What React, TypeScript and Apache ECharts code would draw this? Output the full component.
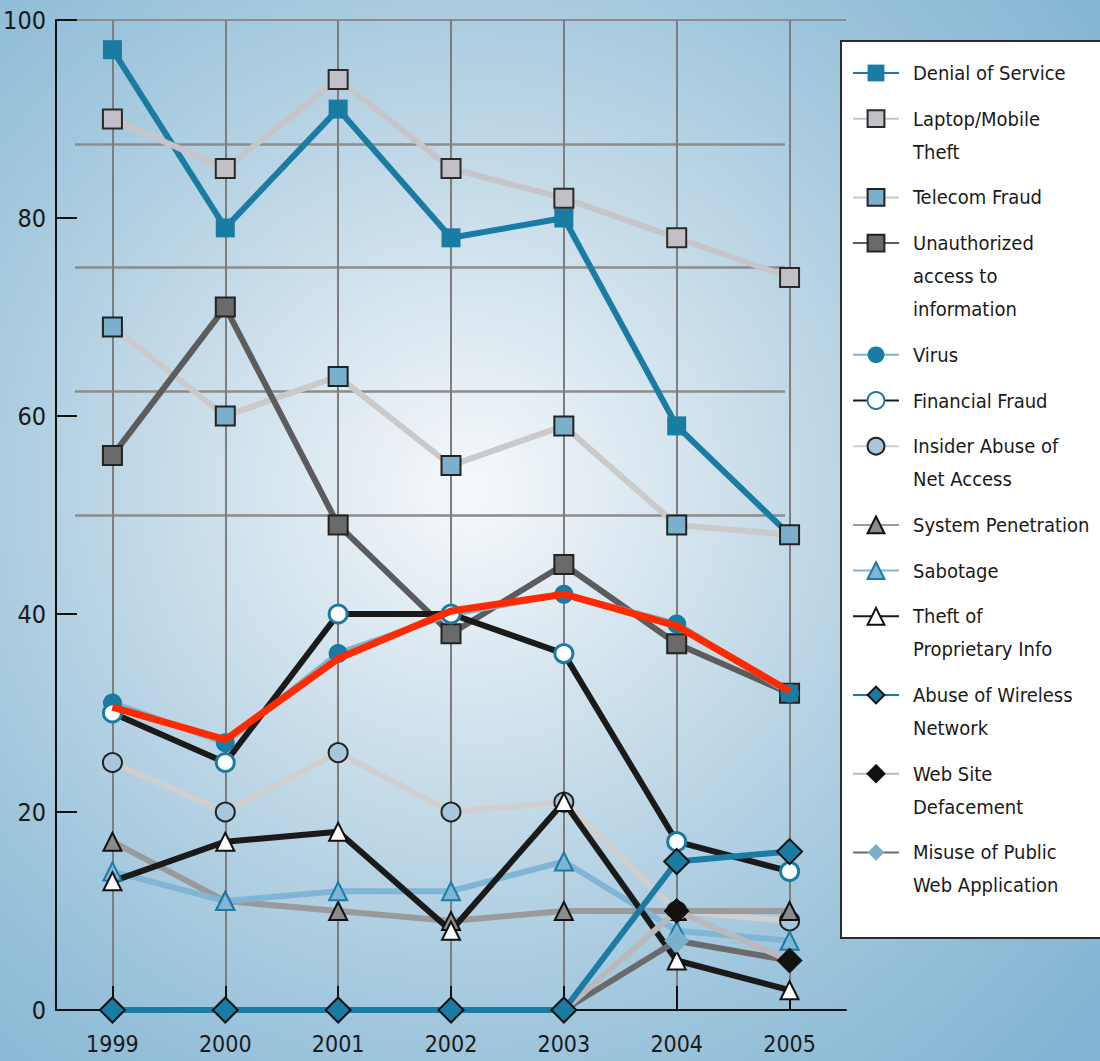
import React, { useEffect, useRef } from "react";
import * as echarts from "echarts";

const years = ["1999", "2000", "2001", "2002", "2003", "2004", "2005"];

const denialOfService = [97, 79, 91, 78, 80, 59, 48];
const laptopTheft = [90, 85, 94, 85, 82, 78, 74];
const telecomFraud = [69, 60, 64, 55, 59, 49, 48];
const unauthorizedAccess = [56, 71, 49, 38, 45, 37, 32];
const virus = [31, 27, 36, 40, 42, 39, 32];
const financialFraud = [30, 25, 40, 40, 36, 17, 14];
const insiderAbuse = [25, 20, 26, 20, 21, 10, 9];
const systemPenetration = [17, 11, 10, 9, 10, 10, 10];
const sabotage = [14, 11, 12, 12, 15, 8, 7];
const theftProprietary = [13, 17, 18, 8, 21, 5, 2];
const wirelessAbuse = [0, 0, 0, 0, 0, 15, 16];
const webDefacement = [null, null, null, null, 0, 10, 5];
const publicWebMisuse = [null, null, null, null, 0, 7, 5];
const redTrend = [30.6, 27.3, 35.5, 40.3, 42, 38.8, 32.2];

const FONT = "'Liberation Sans Narrow', 'DejaVu Sans Condensed', 'Roboto Condensed', sans-serif";
const BLUE = "#1a7ba3";

type SeriesDef = {
  name: string;
  label: string;
  data: (number | null)[];
  line: string;
  symbol: string;
  size: number;
  fill: string;
  border: string;
  borderWidth: number;
  z?: number;
};

const seriesDefs: SeriesDef[] = [
  { name: "Denial of Service", label: "Denial of Service", data: denialOfService, line: BLUE, symbol: "rect", size: 19, fill: BLUE, border: BLUE, borderWidth: 0 },
  { name: "Laptop/Mobile Theft", label: "Laptop/Mobile\nTheft", data: laptopTheft, line: "#c6c6ca", symbol: "rect", size: 19, fill: "#c2c0c6", border: "#2a2a2a", borderWidth: 2 },
  { name: "Telecom Fraud", label: "Telecom Fraud", data: telecomFraud, line: "#cacaca", symbol: "rect", size: 19, fill: "#7ab0cc", border: "#222", borderWidth: 2 },
  { name: "Unauthorized access to information", label: "Unauthorized\naccess to\ninformation", data: unauthorizedAccess, line: "#5c5c5c", symbol: "rect", size: 19, fill: "#6a6a6a", border: "#222", borderWidth: 2 },
  { name: "Virus", label: "Virus", data: virus, line: "#7db2d2", symbol: "circle", size: 19, fill: BLUE, border: BLUE, borderWidth: 0 },
  { name: "Financial Fraud", label: "Financial Fraud", data: financialFraud, line: "#1a1a1a", symbol: "circle", size: 18, fill: "#ffffff", border: BLUE, borderWidth: 3 },
  { name: "Insider Abuse of Net Access", label: "Insider Abuse of\nNet Access", data: insiderAbuse, line: "#cfcfcf", symbol: "circle", size: 19, fill: "#a9c6dd", border: "#222", borderWidth: 2 },
  { name: "System Penetration", label: "System Penetration", data: systemPenetration, line: "#9a9a9a", symbol: "triangle", size: 18, fill: "#8a8a8a", border: "#111", borderWidth: 2 },
  { name: "Sabotage", label: "Sabotage", data: sabotage, line: "#80b5d5", symbol: "triangle", size: 18, fill: "#80b5d5", border: BLUE, borderWidth: 2 },
  { name: "Theft of Proprietary Info", label: "Theft of\nProprietary Info", data: theftProprietary, line: "#1a1a1a", symbol: "triangle", size: 18, fill: "#ffffff", border: "#111", borderWidth: 2 },
  { name: "Abuse of Wireless Network", label: "Abuse of Wireless\nNetwork", data: wirelessAbuse, line: BLUE, symbol: "diamond", size: 25, fill: BLUE, border: "#111", borderWidth: 2, z: 4 },
  { name: "Web Site Defacement", label: "Web Site\nDefacement", data: webDefacement, line: "#b9b9bd", symbol: "diamond", size: 25, fill: "#111", border: "#111", borderWidth: 1, z: 3 },
  { name: "Misuse of Public Web Application", label: "Misuse of Public\nWeb Application", data: publicWebMisuse, line: "#6a6a6a", symbol: "diamond", size: 25, fill: "#7ab0cc", border: "#7ab0cc", borderWidth: 0 },
];

const LEGEND_FIRST_Y = 73;
const LEGEND_LINE_H = 33;
const LEGEND_GAP = 12.7;

function buildLegends() {
  const legends: any[] = [];
  let yc = LEGEND_FIRST_Y;
  seriesDefs.forEach((s) => {
    const n = s.label.split("\n").length;
    // leading blank lines keep the first text line centred on the legend icon
    const text = "\n".repeat(n - 1) + s.label;
    legends.push({
      data: [s.name],
      left: 852,
      top: yc - ((2 * n - 1) * LEGEND_LINE_H) / 2,
      orient: "vertical",
      padding: 0,
      itemWidth: 46,
      itemHeight: 21,
      selectedMode: false,
      formatter: () => text,
      textStyle: {
        fontFamily: FONT,
        fontSize: 20,
        color: "#1a1a1a",
        lineHeight: LEGEND_LINE_H,
        padding: [0, 0, 0, 9],
      },
    });
    yc += n * LEGEND_LINE_H + LEGEND_GAP;
  });
  return legends;
}

export default function App() {
  const ref = useRef<HTMLDivElement>(null);

  useEffect(() => {
    document.body.style.margin = "0";
    if (!ref.current) return;
    const chart = echarts.init(ref.current, undefined, { renderer: "svg" });

    const series: any[] = seriesDefs.map((s) => ({
      name: s.name,
      type: "line",
      data: s.data,
      xAxisIndex: 0,
      yAxisIndex: 0,
      symbol: s.symbol,
      symbolSize: s.size,
      showAllSymbol: true,
      z: s.z ?? 2,
      lineStyle: { color: s.line, width: 6 },
      itemStyle: { color: s.fill, borderColor: s.border, borderWidth: s.borderWidth },
      emphasis: { disabled: true },
    }));

    series.push({
      name: "trend",
      type: "line",
      data: redTrend,
      xAxisIndex: 0,
      yAxisIndex: 0,
      symbol: "none",
      z: 10,
      lineStyle: { color: "#ff2a00", width: 7 },
      emphasis: { disabled: true },
    });

    const option: any = {
      animation: false,
      backgroundColor: new echarts.graphic.RadialGradient(
        470,
        490,
        820,
        [
          { offset: 0, color: "#f6f9fb" },
          { offset: 0.15, color: "#e3edf3" },
          { offset: 0.4, color: "#c2d9e7" },
          { offset: 0.7, color: "#9cc4dc" },
          { offset: 1, color: "#82b3d2" },
        ],
        true
      ),
      graphic: [
        {
          type: "rect",
          z: -1,
          shape: { x: 841, y: 41, width: 270, height: 897 },
          style: { fill: "#ffffff", stroke: "#2a2a2a", lineWidth: 2 },
        },
      ],
      legend: buildLegends(),
      grid: [
        { left: 56, top: 20, width: 790, height: 990 },
        { left: 75, top: 20, width: 710, height: 990 },
      ],
      xAxis: [
        {
          type: "category",
          gridIndex: 0,
          data: years,
          boundaryGap: true,
          axisLine: { lineStyle: { color: "#111", width: 2 } },
          axisTick: { show: true, inside: true, length: 24, alignWithLabel: true, lineStyle: { color: "#111", width: 2 } },
          axisLabel: { fontFamily: FONT, fontSize: 23, color: "#1a1a1a", margin: 22 },
          splitLine: { show: true, interval: 0, alignWithLabel: true, lineStyle: { color: "#7d7d7d", width: 2 } },
        },
        { type: "value", gridIndex: 1, show: false },
      ],
      yAxis: [
        {
          type: "value",
          gridIndex: 0,
          min: 0,
          max: 100,
          interval: 20,
          axisLine: { show: true, lineStyle: { color: "#111", width: 2 } },
          axisTick: { show: true, inside: true, length: 21, lineStyle: { color: "#111", width: 2 } },
          axisLabel: { fontFamily: FONT, fontSize: 25, color: "#1a1a1a", margin: 10 },
          splitLine: {
            show: true,
            lineStyle: {
              color: ["rgba(0,0,0,0)", "rgba(0,0,0,0)", "rgba(0,0,0,0)", "rgba(0,0,0,0)", "rgba(0,0,0,0)", "#8c8c8c"],
              width: 2,
            },
          },
        },
        {
          type: "value",
          gridIndex: 1,
          min: 0,
          max: 100,
          interval: 12.5,
          axisLine: { show: false },
          axisTick: { show: false },
          axisLabel: { show: false },
          splitLine: {
            show: true,
            lineStyle: {
              color: [
                "rgba(0,0,0,0)",
                "rgba(0,0,0,0)",
                "rgba(0,0,0,0)",
                "rgba(0,0,0,0)",
                "#8c8c8c",
                "#8c8c8c",
                "#8c8c8c",
                "#8c8c8c",
                "rgba(0,0,0,0)",
              ],
              width: 2.5,
            },
          },
        },
      ],
      series,
    };

    chart.setOption(option);
    return () => chart.dispose();
  }, []);

  return <div ref={ref} style={{ width: 1100, height: 1061 }} />;
}
